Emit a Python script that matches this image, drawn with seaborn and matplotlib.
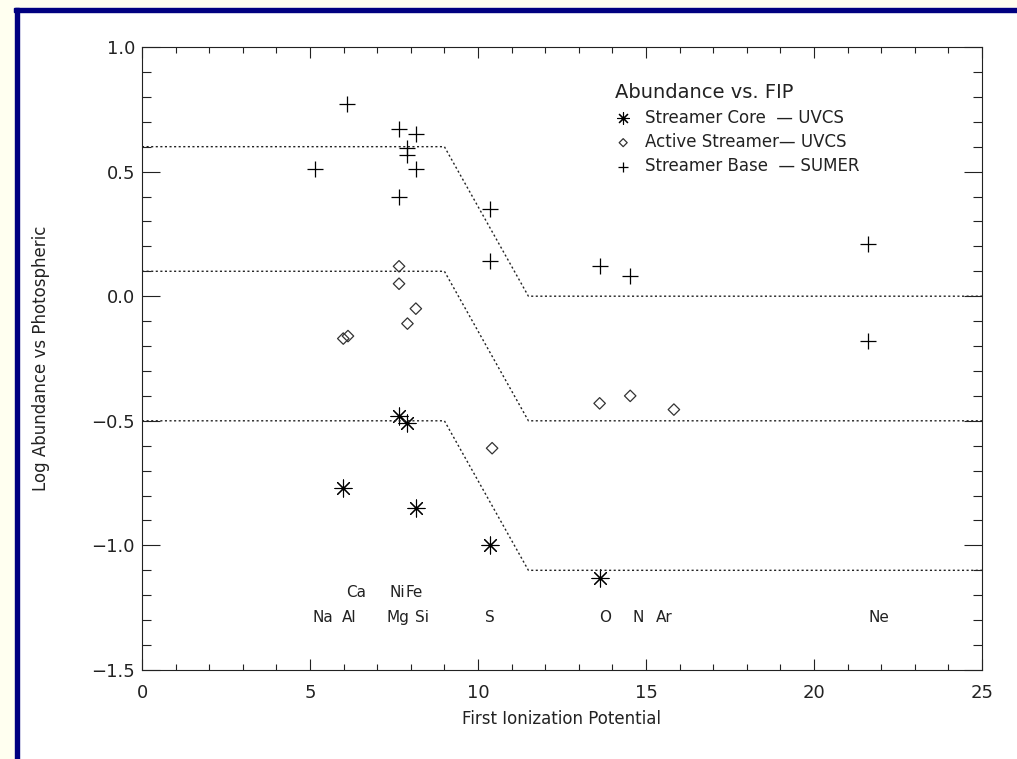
import matplotlib
matplotlib.use('Agg')
import matplotlib.pyplot as plt
from matplotlib.patches import Rectangle
from matplotlib.ticker import MultipleLocator
import seaborn as sns

# streamer core (UVCS)
core_fip = [7.65, 7.90, 5.99, 8.15, 10.36, 13.62]
core_abund = [-0.48, -0.51, -0.77, -0.85, -1.00, -1.13]

# active streamer (UVCS)
active_fip = [5.99, 6.13, 7.65, 7.65, 8.15, 7.90, 10.42, 13.62, 14.53, 15.83]
active_abund = [-0.17, -0.16, 0.12, 0.05, -0.05, -0.11, -0.61, -0.43, -0.40, -0.455]

# streamer base (SUMER)
base_fip = [5.14, 6.11, 7.65, 8.15, 7.90, 7.90, 8.15, 7.65, 10.36, 10.36, 13.62, 14.53, 21.6, 21.6]
base_abund = [0.51, 0.77, 0.67, 0.65, 0.595, 0.565, 0.51, 0.40, 0.35, 0.14, 0.12, 0.08, 0.21, -0.18]

# FIP step model curves
step_fip = [0, 9.0, 11.5, 25]
step_top = [0.6, 0.6, 0.0, 0.0]
step_mid = [0.1, 0.1, -0.5, -0.5]
step_low = [-0.5, -0.5, -1.1, -1.1]

# element labels along the bottom
elem_row1 = ['Ca', 'Ni', 'Fe']
elem_row1_x = [6.37, 7.59, 8.10]
elem_row2 = ['Na', 'Al', 'Mg', 'Si', 'S', 'O', 'N', 'Ar', 'Ne']
elem_row2_x = [5.38, 6.16, 7.63, 8.32, 10.34, 13.78, 14.76, 15.55, 21.92]

sns.set_style('ticks')
plt.rcParams['font.family'] = ['DejaVu Sans']
ink = '#222222'

fig = plt.figure(figsize=(10.17, 7.59), dpi=100)
fig.patch.set_facecolor('white')

# page frame
cream = '#fffff0'
navy = '#000080'
W, H = 1017, 759
fig.add_artist(Rectangle((0, (H - 8) / H), 1, 8 / H, transform=fig.transFigure, color=cream, zorder=0))
fig.add_artist(Rectangle((0, 0), 15 / W, 1, transform=fig.transFigure, color=cream, zorder=0))
fig.add_artist(Rectangle((14 / W, (H - 12) / H), 1, 4 / H, transform=fig.transFigure, color=navy, zorder=1))
fig.add_artist(Rectangle((15 / W, 0), 4 / W, (H - 8) / H, transform=fig.transFigure, color=navy, zorder=1))

ax = fig.add_axes([142 / W, 89 / H, 840 / W, 623 / H])

for level in (step_top, step_mid, step_low):
    sns.lineplot(x=step_fip, y=level, ax=ax, color=ink, linewidth=1.0,
                 linestyle=(0, (1.5, 1.8)), sort=False, legend=False)

sns.scatterplot(x=core_fip, y=core_abund, ax=ax, marker=(8, 2, 0), s=150,
                color='black', linewidth=0.8, label='Streamer Core  \u2014 UVCS')
sns.scatterplot(x=active_fip, y=active_abund, ax=ax, marker='D', s=34,
                facecolor='none', edgecolor='#333333', linewidth=0.9,
                label='Active Streamer\u2014 UVCS')
sns.scatterplot(x=base_fip, y=base_abund, ax=ax, marker='+', s=120,
                color='black', linewidth=0.9, label='Streamer Base  \u2014 SUMER')

for name, xv in zip(elem_row1, elem_row1_x):
    ax.text(xv, -1.187, name, ha='center', va='center', fontsize=11, color=ink)
for name, xv in zip(elem_row2, elem_row2_x):
    ax.text(xv, -1.291, name, ha='center', va='center', fontsize=11, color=ink)

leg = ax.legend(loc='upper left', bbox_to_anchor=(0.553, 0.955), frameon=False,
                title='Abundance vs. FIP', alignment='left', fontsize=12,
                title_fontsize=14, handletextpad=0.8, labelspacing=0.38,
                handlelength=1.0, borderpad=0.0, markerscale=0.7)
for t in leg.get_texts():
    t.set_color(ink)
leg.get_title().set_color(ink)

ax.set_xlim(0, 25)
ax.set_ylim(-1.5, 1.0)
ax.xaxis.set_major_locator(MultipleLocator(5))
ax.xaxis.set_minor_locator(MultipleLocator(1))
ax.yaxis.set_major_locator(MultipleLocator(0.5))
ax.yaxis.set_minor_locator(MultipleLocator(0.1))
ax.set_xticks([0, 5, 10, 15, 20, 25])
ax.set_xticklabels(['0', '5', '10', '15', '20', '25'])
ax.set_yticks([1.0, 0.5, 0.0, -0.5, -1.0, -1.5])
ax.set_yticklabels(['1.0', '0.5', '0.0', '\u22120.5', '\u22121.0', '\u22121.5'])

ax.tick_params(axis='x', which='major', direction='in', length=8, width=0.8,
               top=True, bottom=True, labelsize=13, colors=ink, pad=10)
ax.tick_params(axis='x', which='minor', direction='in', length=4, width=0.8,
               top=True, bottom=True, colors=ink)
ax.tick_params(axis='y', which='major', direction='in', length=13, width=0.8,
               left=True, right=True, labelsize=13, colors=ink, pad=5)
ax.tick_params(axis='y', which='minor', direction='in', length=6.5, width=0.8,
               left=True, right=True, colors=ink)
for sp in ax.spines.values():
    sp.set_visible(True)
    sp.set_linewidth(0.8)
    sp.set_color(ink)

ax.set_xlabel('First Ionization Potential', fontsize=12, color=ink, labelpad=6)
ax.set_ylabel('Log Abundance vs Photospheric', fontsize=12, color=ink, labelpad=30)

fig.savefig('out.png', dpi=100)
